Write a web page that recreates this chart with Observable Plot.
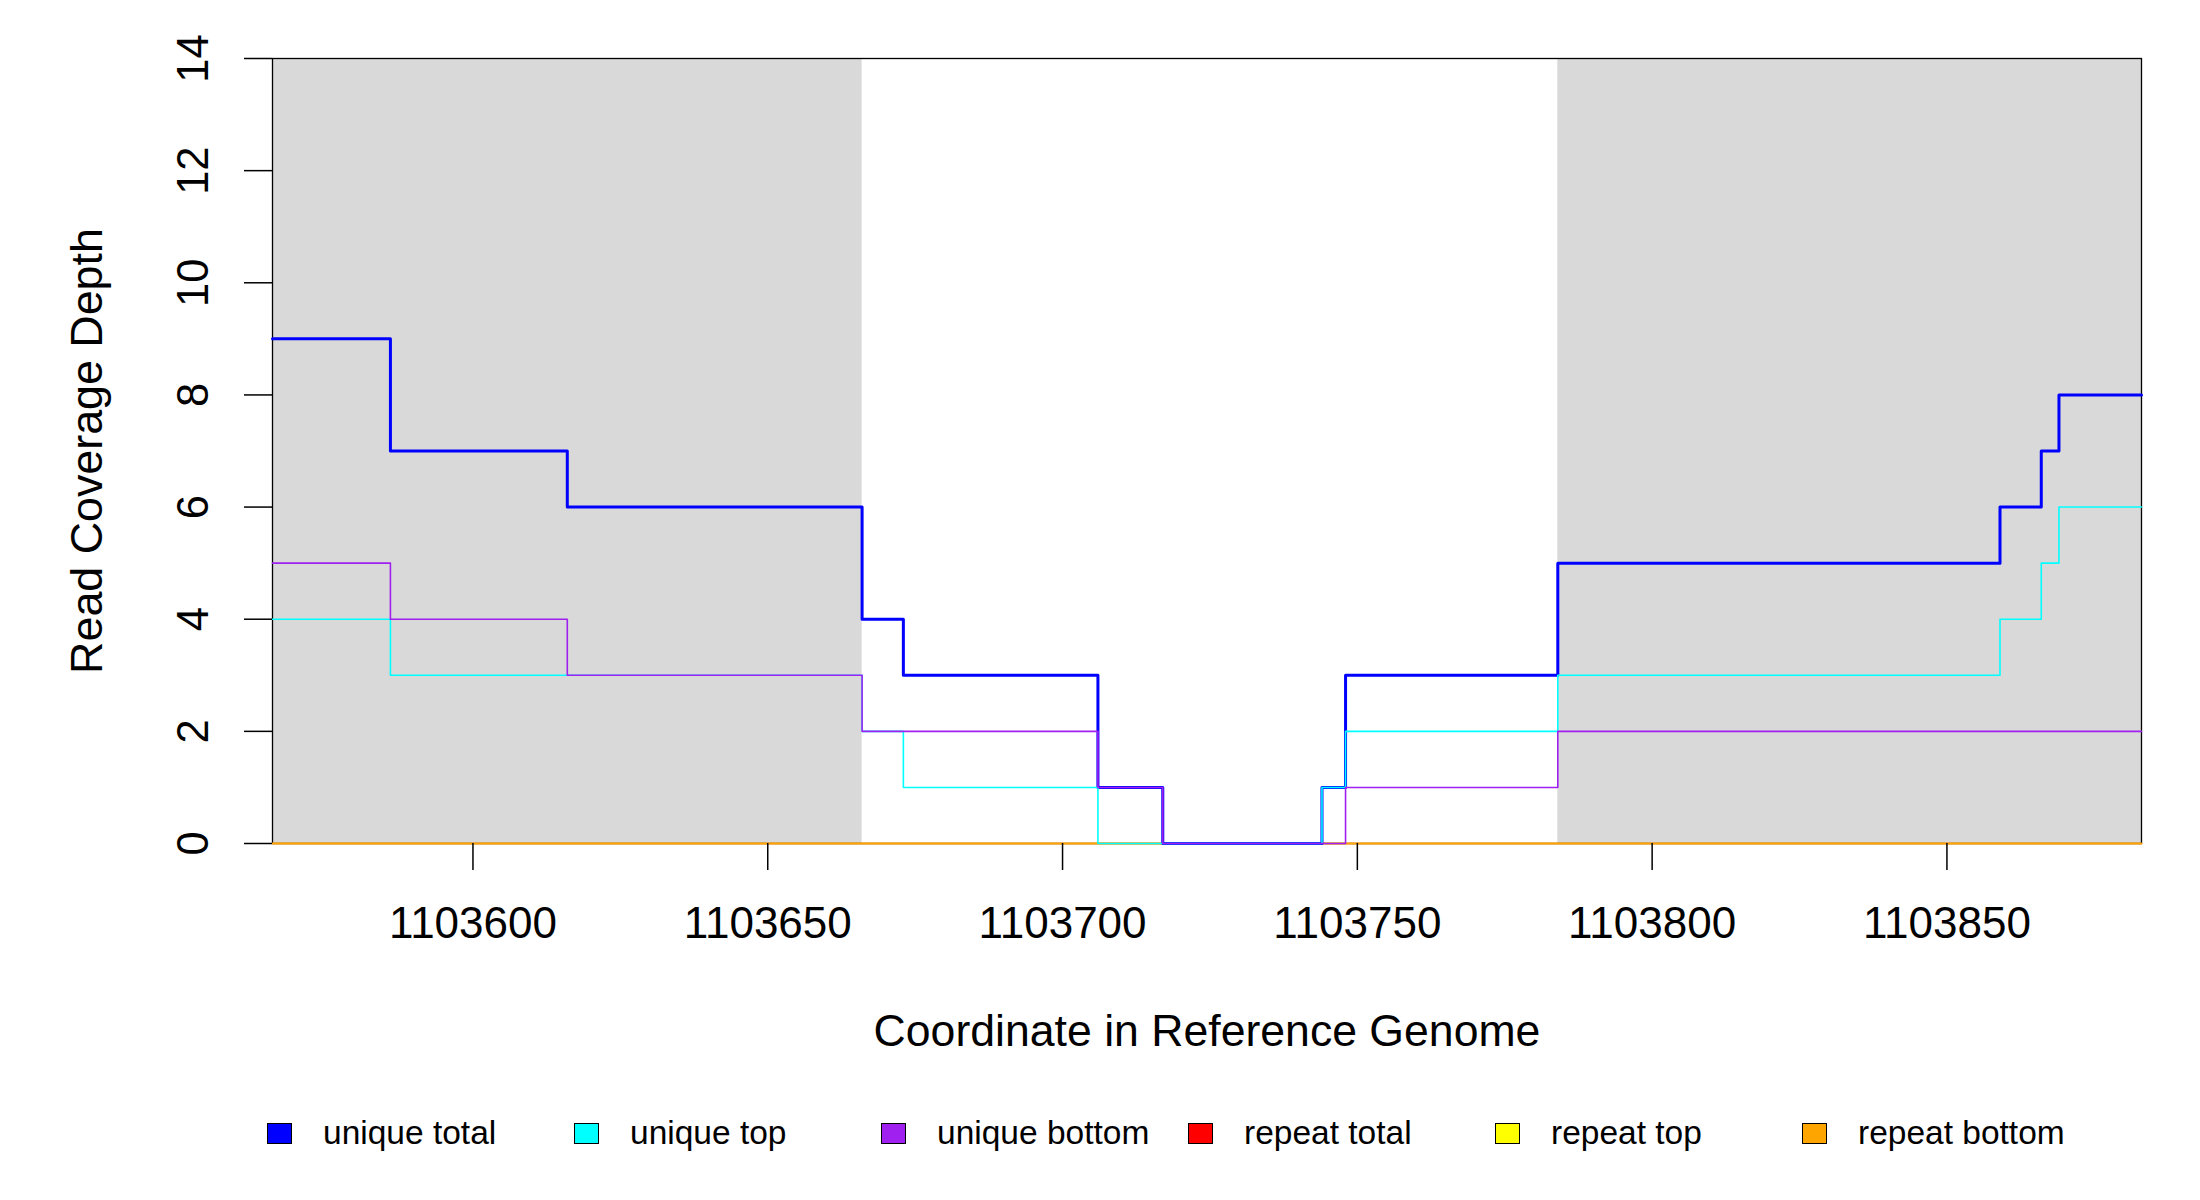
<!DOCTYPE html>
<html>
<head>
<meta charset="utf-8">
<script src="https://cdn.jsdelivr.net/npm/d3@7"></script>
<script src="https://cdn.jsdelivr.net/npm/@observablehq/plot@0.6"></script>
<style>
  html, body { margin: 0; padding: 0; background: #ffffff; }
  #wrap { position: relative; width: 2200px; height: 1200px; background: #ffffff; font-family: "Liberation Sans", Arial, sans-serif; }
  .sw { position: absolute; width: 23px; height: 19px; border: 1.5px solid #000; }
  .lt { position: absolute; font-size: 33.5px; line-height: 33.5px; color: #000; white-space: nowrap; }
</style>
</head>
<body>
<div id="wrap"></div>
<script>
// ---- data ----
const positions     = [1103566, 1103586, 1103616, 1103666, 1103673, 1103706, 1103717, 1103744, 1103748, 1103784, 1103859, 1103866, 1103869, 1103883];
const uniqueTotal   = [9, 7, 6, 4, 3, 1, 0, 1, 3, 5, 6, 7, 8, 8];
const uniqueTop     = [4, 3, 3, 2, 1, 0, 0, 1, 2, 3, 4, 5, 6, 6];
const uniqueBottom  = [5, 4, 3, 2, 2, 1, 0, 0, 1, 2, 2, 2, 2, 2];
const repeatTotal   = [0, 0, 0, 0, 0, 0, 0, 0, 0, 0, 0, 0, 0, 0];
const repeatTop     = [0, 0, 0, 0, 0, 0, 0, 0, 0, 0, 0, 0, 0, 0];
const repeatBottom  = [0, 0, 0, 0, 0, 0, 0, 0, 0, 0, 0, 0, 0, 0];

const seriesNames  = ["unique total", "unique top", "unique bottom", "repeat total", "repeat top", "repeat bottom"];
const seriesColors = ["#0000FF", "#00FFFF", "#A020F0", "#FF0000", "#FFFF00", "#FFA500"];
const seriesValues = [uniqueTotal, uniqueTop, uniqueBottom, repeatTotal, repeatTop, repeatBottom];

const featureStart = [1103566, 1103784];
const featureEnd   = [1103666, 1103883];

const xDomain = [1103566, 1103883];
const yDomain = [0, 14];
const xTicks  = [1103600, 1103650, 1103700, 1103750, 1103800, 1103850];
const yTicks  = [0, 2, 4, 6, 8, 10, 12, 14];

const xTitle = "Coordinate in Reference Genome";
const yTitle = "Read Coverage Depth";

// ---- build tables ----
const rows = [];
seriesNames.forEach((name, i) => {
  positions.forEach((p, j) => rows.push({x: p, y: seriesValues[i][j], series: name}));
});
const features = featureStart.map((s, i) => ({x1: s, x2: featureEnd[i]}));

const width = 2200, height = 1100;
const mL = 272, mR = 59, mT = 58, mB = height - 843;

// repeats first, then unique (unique drawn on top)
const drawOrder = [3, 4, 5, 0, 1, 2];
const lineMarks = drawOrder.map(i => Plot.line(rows.filter(r => r.series === seriesNames[i]), {
  x: "x", y: "y", curve: "step-after",
  stroke: seriesColors[i], strokeWidth: i === 0 ? 3 : 1.6
}));

const chart = Plot.plot({
  width, height,
  marginLeft: mL, marginRight: mR, marginTop: mT, marginBottom: mB,
  style: {fontFamily: "'Liberation Sans', Arial, sans-serif", background: "#ffffff", color: "#000000"},
  x: {domain: xDomain},
  y: {domain: yDomain},
  marks: [
    Plot.rect(features, {x1: "x1", x2: "x2", y1: yDomain[0], y2: yDomain[1], fill: "#D9D9D9"}),
    Plot.frame({stroke: "#000000", strokeWidth: 1.3}),
    ...lineMarks,
    Plot.axisX({ticks: xTicks, tickSize: 27, tickPadding: 36, fontSize: 44, tickFormat: d => String(d), label: null, strokeWidth: 1.5}),
    Plot.axisY({ticks: yTicks, tickSize: 28, tickPadding: 37, tickRotate: -90, fontSize: 43.5, label: null, strokeWidth: 1.5}),
    Plot.text([xTitle], {frameAnchor: "bottom", text: d => d, dy: 202, lineAnchor: "bottom", fontSize: 44.6, fill: "#000000"}),
    Plot.text([yTitle], {frameAnchor: "left", text: d => d, dx: -171, rotate: -90, textAnchor: "middle", lineAnchor: "bottom", fontSize: 44.8, fill: "#000000"})
  ]
});

const wrap = document.getElementById("wrap");
chart.style.position = "absolute";
chart.style.left = "0px";
chart.style.top = "0px";
wrap.appendChild(chart);

// ---- legend (HTML, below the plot) ----
const legendLeft0 = 267, legendStep = 307, swatchTop = 1123, textBaselineTop = 1116;
seriesNames.forEach((name, i) => {
  const sw = document.createElement("div");
  sw.className = "sw";
  sw.style.left = (legendLeft0 + i * legendStep) + "px";
  sw.style.top = swatchTop + "px";
  sw.style.background = seriesColors[i];
  wrap.appendChild(sw);
  const t = document.createElement("div");
  t.className = "lt";
  t.style.left = (legendLeft0 + 56 + i * legendStep) + "px";
  t.style.top = textBaselineTop + "px";
  t.textContent = name;
  wrap.appendChild(t);
});
</script>
</body>
</html>
